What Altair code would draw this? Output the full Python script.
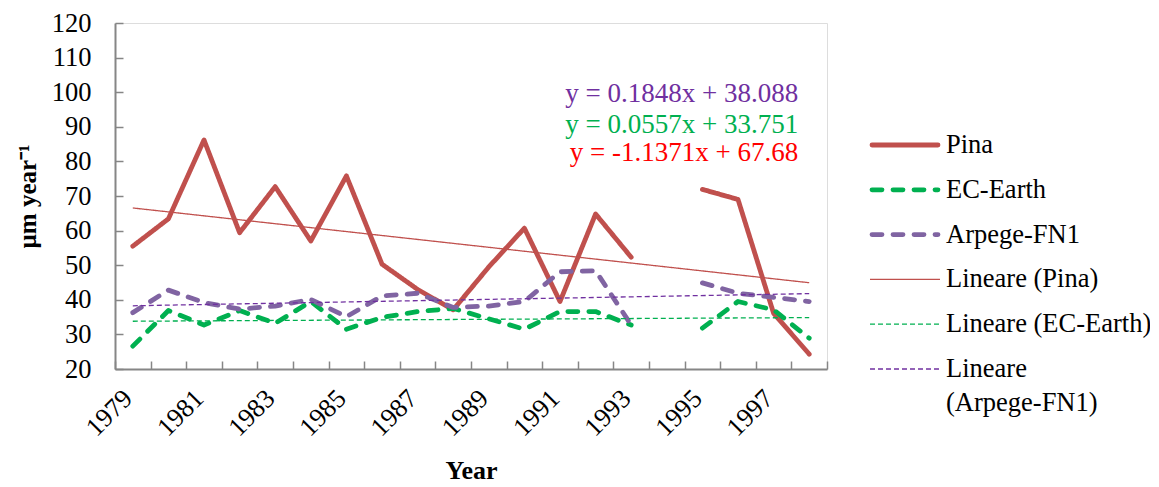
import altair as alt
import pandas as pd

years = list(range(1979, 1999))
pina = [55.5, 63.4, 86.2, 59.4, 72.7, 57.0, 75.8, 50.3, 43.0, 37.1,
        49.5, 60.7, 39.5, 64.8, 52.3, None, 71.9, 69.0, 36.1, 24.3]
ec_earth = [26.6, 36.9, 32.7, 36.9, 33.2, 39.5, 31.5, 34.9, 36.6, 37.5,
            34.5, 31.5, 36.6, 36.6, 32.7, None, 31.8, 39.5, 37.1, 28.9]
arpege = [36.3, 42.8, 39.2, 37.3, 38.2, 40.1, 35.1, 41.1, 41.9, 37.8,
          38.2, 39.5, 48.1, 48.4, 32.7, None, 44.9, 41.9, 40.7, 39.5]

series_names = ["Pina", "EC-Earth", "Arpege-FN1"]
trend_names = ["Lineare (Pina)", "Lineare (EC-Earth)", "Lineare (Arpege-FN1)"]
slopes = [-1.1371, 0.0557, 0.1848]
intercepts = [67.68, 33.751, 38.088]

eq_texts = ["y = 0.1848x + 38.088", "y = 0.0557x + 33.751", "y = -1.1371x + 67.68"]
eq_colors = ["#7030A0", "#00B050", "#FF0000"]
eq_y = [99.4, 90.6, 82.4]

legend_order = series_names + trend_names
legend_labels = ["Pina", "EC-Earth", "Arpege-FN1", "Lineare (Pina)",
                 "Lineare (EC-Earth)", "Lineare\n(Arpege-FN1)"]
colors = ["#C0504D", "#00B050", "#8064A2", "#C0504D", "#00B050", "#7030A0"]
dashes = [[1, 0], [10, 11], [10, 11], [1, 0], [5, 3], [5, 3]]

rows = []
for name, vals in zip(series_names, [pina, ec_earth, arpege]):
    seg = 0
    for yr, v in zip(years, vals):
        if v is None:
            seg += 1
            continue
        rows.append(dict(year=yr, value=v, series=name, seg=seg))
df = pd.DataFrame(rows)

trows = []
for name, m, b in zip(trend_names, slopes, intercepts):
    for i in (1, len(years)):
        trows.append(dict(year=years[i - 1], value=m * i + b, series=name))
tdf = pd.DataFrame(trows)

eq_df = pd.DataFrame(dict(text=eq_texts, color=eq_colors, y=eq_y,
                          year=[years[-1]] * len(eq_texts)))
leg_df = pd.DataFrame(dict(series=legend_order, label=legend_labels,
                           thick=[True, True, True, False, False, False]))

FONT = "Times New Roman, Liberation Serif, serif"
GRAY = "#868686"
FS = 26.5
x_scale = alt.Scale(domain=[years[0] - 0.5, years[-1] + 0.5], nice=False, zero=False)
y_scale = alt.Scale(domain=[20, 120], nice=False, zero=False)
y_vals = list(range(20, 121, 10))
x_tick_vals = [y - 0.5 for y in years] + [years[-1] + 0.5]

color_enc = alt.Color("series:N", scale=alt.Scale(domain=legend_order, range=colors), legend=None)
dash_enc = alt.StrokeDash("series:N", scale=alt.Scale(domain=legend_order, range=dashes), legend=None)

main = alt.Chart(df).mark_line(strokeWidth=4.8, strokeCap="round", strokeJoin="round").encode(
    x=alt.X("year:Q", scale=x_scale,
            axis=alt.Axis(orient="bottom", values=years[::2], format="d", ticks=False,
                          domainColor=GRAY, domainWidth=2, labelAngle=-45,
                          labelAlign="right", labelBaseline="middle", labelFont=FONT,
                          labelFontSize=FS, labelColor="black", labelPadding=25,
                          labelOffset=-5,
                          title="Year", titleFont=FONT, titleFontSize=26,
                          titleFontWeight="bold", titleColor="black", titlePadding=16,
                          grid=False)),
    y=alt.Y("value:Q", scale=y_scale,
            axis=alt.Axis(orient="left", values=y_vals, ticks=False, domainColor=GRAY,
                          domainWidth=2, labelFont=FONT, labelFontSize=FS,
                          labelColor="black", labelPadding=24, title="µm year⁻¹",
                          titleFont=FONT, titleFontSize=25, titleFontWeight="bold",
                          titleColor="black", titlePadding=11, grid=False)),
    color=color_enc,
    strokeDash=dash_enc,
    detail="seg:N",
)

trend = alt.Chart(tdf).mark_line(strokeWidth=1.3).encode(
    x=alt.X("year:Q", scale=x_scale, axis=None),
    y=alt.Y("value:Q", scale=y_scale, axis=None),
    color=color_enc,
    strokeDash=dash_enc,
)

ticks = alt.Chart(df).mark_line(opacity=0).encode(
    x=alt.X("year:Q", scale=x_scale,
            axis=alt.Axis(orient="top", offset=-346, values=x_tick_vals, labels=False,
                          domain=False, tickSize=8, tickColor=GRAY, tickWidth=1.5,
                          title=None, grid=False)),
    y=alt.Y("value:Q", scale=y_scale,
            axis=alt.Axis(orient="right", offset=-712, values=y_vals, labels=False,
                          domain=False, tickSize=8, tickColor=GRAY, tickWidth=1.5,
                          title=None, grid=False)),
    detail="series:N",
)

eqs = alt.Chart(eq_df).mark_text(align="right", baseline="middle", font=FONT,
                                  fontSize=27, dx=-11).encode(
    x=alt.X("year:Q", scale=x_scale, axis=None),
    y=alt.Y("y:Q", scale=y_scale, axis=None),
    text="text:N",
    color=alt.Color("color:N", scale=None),
)

leg_y = alt.Y("series:N", sort=legend_order,
              scale=alt.Scale(type="point", domain=legend_order, range=[122, 346], padding=0),
              axis=None)

leg_thick = alt.Chart(leg_df).transform_filter("datum.thick").mark_rule(
    strokeWidth=4.8, strokeCap="round").encode(
    x=alt.value(757), x2=alt.value(823), y=leg_y, color=color_enc, strokeDash=dash_enc)
leg_thin = alt.Chart(leg_df).transform_filter("!datum.thick").mark_rule(
    strokeWidth=1.3).encode(
    x=alt.value(755), x2=alt.value(825), y=leg_y, color=color_enc, strokeDash=dash_enc)
leg_text = alt.Chart(leg_df).mark_text(align="left", baseline="alphabetic", dy=8,
                                       font=FONT, fontSize=FS, lineBreak="\n",
                                       lineHeight=34, color="black").encode(
    x=alt.value(831), y=leg_y, text="label:N")

chart = alt.layer(main, trend, ticks, eqs, leg_thick, leg_thin, leg_text).resolve_scale(
    y="independent"
).resolve_axis(
    x="independent", y="independent"
).properties(
    width=712, height=346,
    autosize=alt.AutoSizeParams(type="none"),
    padding={"left": 107, "top": 15, "right": 323, "bottom": 118},
).configure_view(stroke=None).configure(background="white")

chart.save("out.html", embed_options={"renderer": "svg", "actions": False})
